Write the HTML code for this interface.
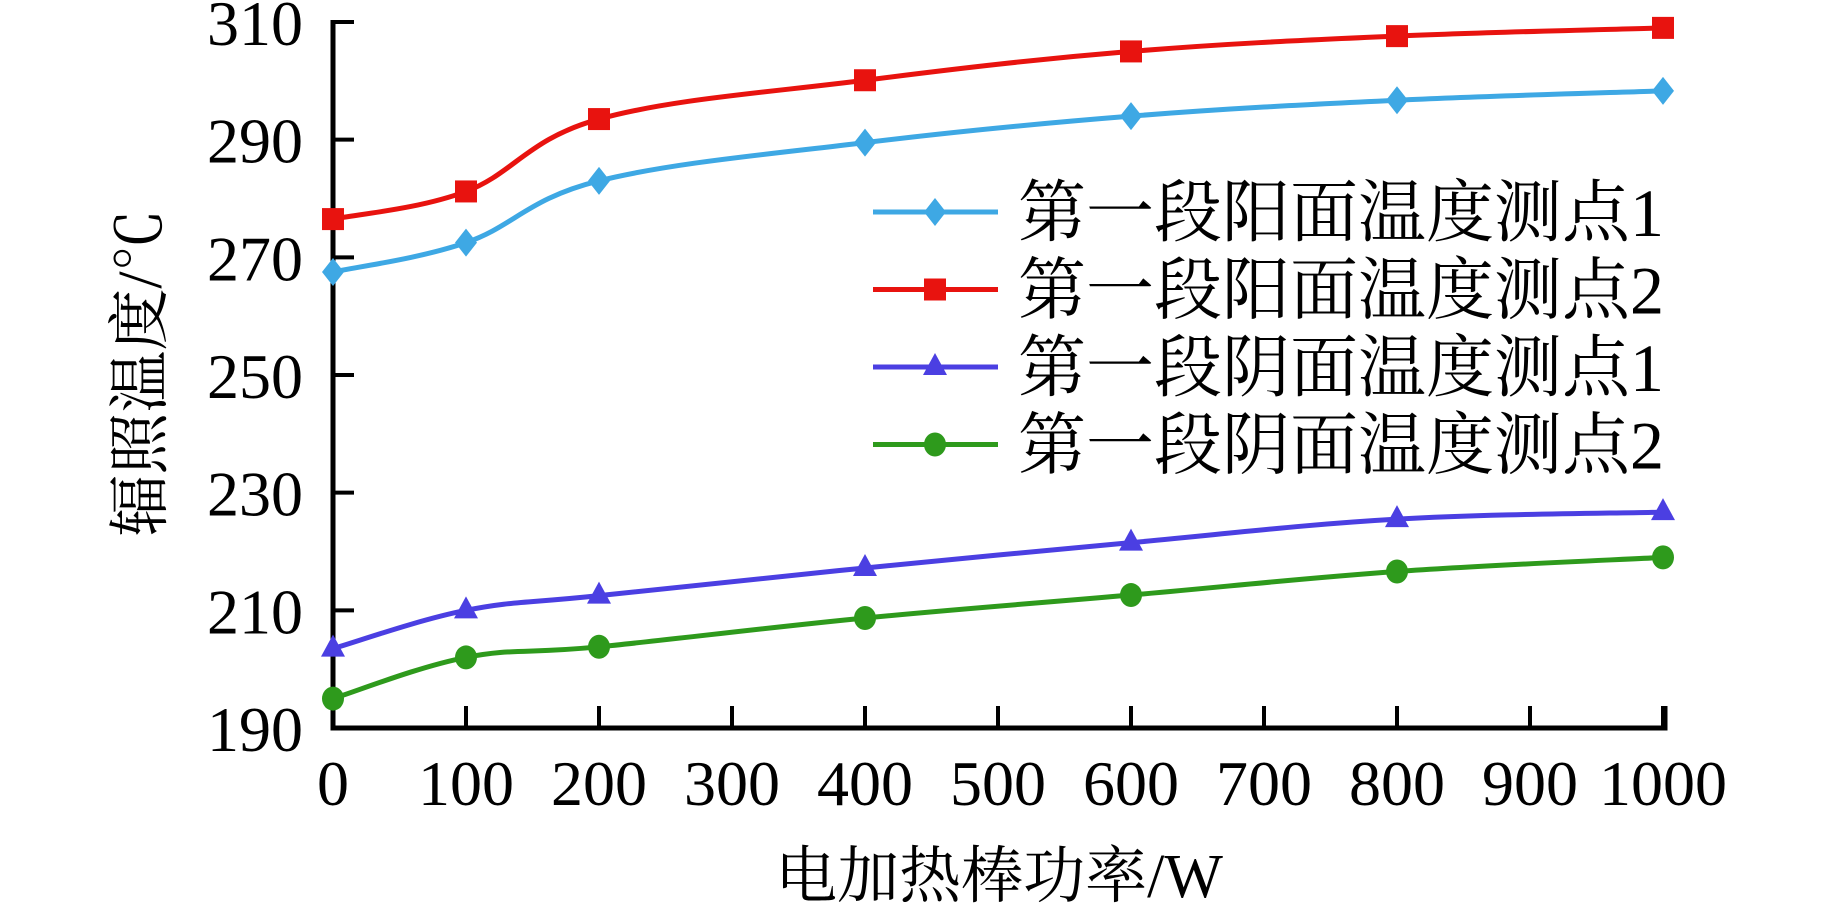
<!DOCTYPE html>
<html><head><meta charset="utf-8"><style>
html,body{margin:0;padding:0;background:#fff;}
svg{display:block;}
text{font-family:"Liberation Serif","Noto Serif CJK SC",serif;fill:#000;}
</style></head><body>
<svg id="c" width="1843" height="905" viewBox="0 0 1843 905" xmlns="http://www.w3.org/2000/svg">
<g id="axes" stroke="#000" stroke-width="5" fill="none">
<path d="M333 20 V728 H1665 V706"/>
</g>
<g id="ticks" stroke="#000" stroke-width="4"></g>
<g id="labels" font-size="64"></g>
<g id="series"></g>
<text x="999" y="897" font-size="62" text-anchor="middle">电加热棒功率/W</text>
<text transform="translate(161,373) rotate(-90)" font-size="62" text-anchor="middle">辐照温度/℃</text>
<g id="legend"></g>
</svg>
<script>
const NS="http://www.w3.org/2000/svg";
function el(t,a,p,txt){const e=document.createElementNS(NS,t);for(const k in a)e.setAttribute(k,a[k]);if(txt!=null)e.textContent=txt;p.appendChild(e);return e;}
const X=v=>333+v*1.33, Y=v=>22+(310-v)*(706/120);
const tk=document.getElementById('ticks'), lb=document.getElementById('labels');
for(let v=190;v<=310;v+=20){const y=Y(v);el('line',{x1:333,x2:354,y1:y,y2:y},tk);el('text',{x:303,y:y+23,'text-anchor':'end'},lb,String(v));}
for(let v=0;v<=1000;v+=100){const x=X(v);if(v>0)el('line',{x1:x,x2:x,y1:728,y2:706},tk);el('text',{x:x,y:805,'text-anchor':'middle'},lb,String(v));}
const xs=[0,100,200,400,600,800,1000];
const S=[
{c:'#3ea8e4',m:'d',d:[267.5,272.5,283,289.5,294,296.7,298.3],n:'第一段阳面温度测点1'},
{c:'#e8130f',m:'s',d:[276.5,281.2,293.5,300.1,305,307.6,309],n:'第一段阳面温度测点2'},
{c:'#4b3fe2',m:'t',d:[203.5,210,212.5,217.2,221.5,225.5,226.7],n:'第一段阴面温度测点1'},
{c:'#2e9a1c',m:'o',d:[195,202,203.8,208.7,212.6,216.6,219],n:'第一段阴面温度测点2'}
];
function marker(m,x,y,c,p){
 if(m=='d')el('polygon',{points:`${x},${y-14} ${x+11},${y} ${x},${y+14} ${x-11},${y}`,fill:c},p);
 if(m=='s')el('rect',{x:x-11,y:y-11,width:22,height:22,fill:c},p);
 if(m=='t')el('polygon',{points:`${x},${y-14} ${x+12},${y+8} ${x-12},${y+8}`,fill:c},p);
 if(m=='o')el('ellipse',{cx:x,cy:y,rx:11,ry:12,fill:c},p);
}
const sg=document.getElementById('series');
S.forEach(s=>{
 const P=xs.map((v,i)=>[X(v),Y(s.d[i])]);
 let d=`M${P[0][0]},${P[0][1]}`;
 for(let i=0;i<P.length-1;i++){
  const p0=P[Math.max(0,i-1)],p1=P[i],p2=P[i+1],p3=P[Math.min(P.length-1,i+2)];
  const t=0.18;
  const c1=[p1[0]+(p2[0]-p0[0])*t,p1[1]+(p2[1]-p0[1])*t];
  const c2=[p2[0]-(p3[0]-p1[0])*t,p2[1]-(p3[1]-p1[1])*t];
  d+=` C${c1[0]},${c1[1]} ${c2[0]},${c2[1]} ${p2[0]},${p2[1]}`;
 }
 el('path',{d:d,stroke:s.c,'stroke-width':5,fill:'none'},sg);
 P.forEach(p=>marker(s.m,p[0],p[1],s.c,sg));
});
const lg=document.getElementById('legend');
S.forEach((s,i)=>{
 const y=212+i*77.5;
 el('line',{x1:873,x2:998,y1:y,y2:y,stroke:s.c,'stroke-width':5},lg);
 marker(s.m,935,y,s.c,lg);
 el('text',{x:1018,y:y+24,'font-size':68},lg,s.n);
});
</script>
</body></html>
